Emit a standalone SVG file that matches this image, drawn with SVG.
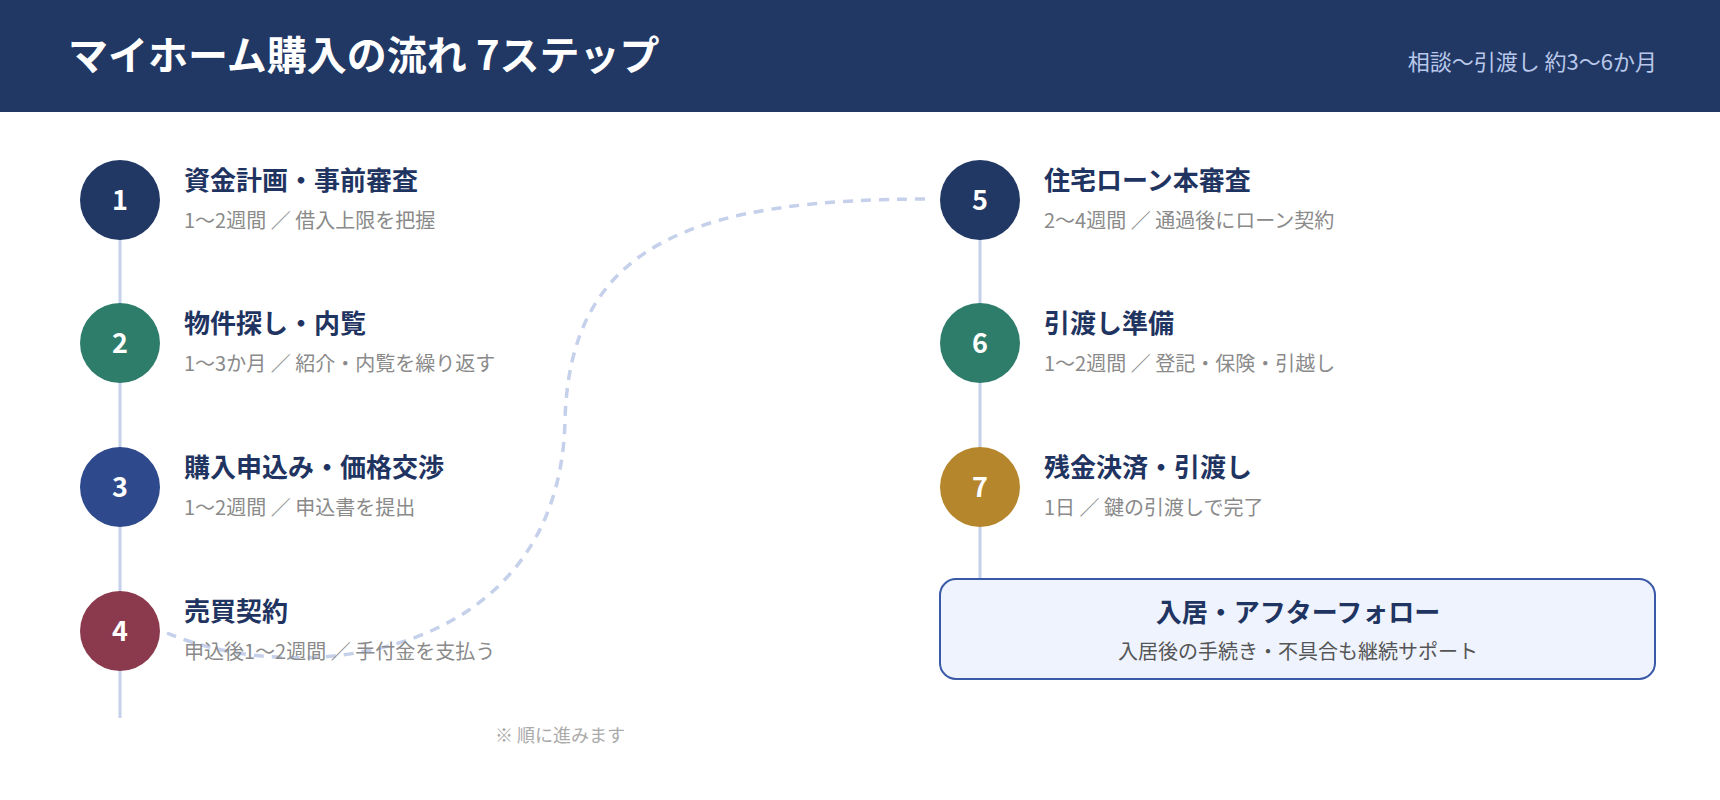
<svg xmlns="http://www.w3.org/2000/svg" width="1720" height="800" viewBox="0 0 1720 800">
<style>
text{font-family:"Noto Sans CJK JP","Noto Sans",sans-serif}
.num{fill:#fff;font-size:27px;font-weight:700;text-anchor:middle}
.t{fill:#1f3461;font-size:26px;font-weight:700}
.s{fill:#8a8a8a;font-size:20px}
.spine{stroke:#c5d0ea;stroke-width:3;fill:none}
</style>
<rect width="1720" height="800" fill="#fff"/>
<g id="header">
<rect width="1720" height="112" fill="#213864"/>
<text x="68" y="70" fill="#fff" font-size="40" font-weight="700">マイホーム購入の流れ 7ステップ</text>
<text x="1657" y="70" fill="#b9c8ea" font-size="22" text-anchor="end">相談〜引渡し 約3〜6か月</text>
</g>
<g id="connectors">
<line class="spine" x1="120" y1="200" x2="120" y2="718"/>
<line class="spine" x1="980" y1="200" x2="980" y2="579"/>
<path d="M167 633 C300 690 560 660 565 420 C570 240 700 199 932 199" fill="none" stroke="#c5d0ea" stroke-width="3.5" stroke-dasharray="10 8"/>
</g>
<g id="step1"><circle cx="120" cy="200" r="40" fill="#213864"/><text class="num" x="120" y="210">1</text>
<text class="t" x="184" y="190">資金計画・事前審査</text><text class="s" x="184" y="228">1〜2週間 ／ 借入上限を把握</text></g>
<g id="step2"><circle cx="120" cy="343" r="40" fill="#2e7d6b"/><text class="num" x="120" y="353">2</text>
<text class="t" x="184" y="333">物件探し・内覧</text><text class="s" x="184" y="371">1〜3か月 ／ 紹介・内覧を繰り返す</text></g>
<g id="step3"><circle cx="120" cy="487" r="40" fill="#2e4a8c"/><text class="num" x="120" y="497">3</text>
<text class="t" x="184" y="477">購入申込み・価格交渉</text><text class="s" x="184" y="515">1〜2週間 ／ 申込書を提出</text></g>
<g id="step4"><circle cx="120" cy="631" r="40" fill="#8b3a4e"/><text class="num" x="120" y="641">4</text>
<text class="t" x="184" y="621">売買契約</text><text class="s" x="184" y="659">申込後1〜2週間 ／ 手付金を支払う</text></g>
<g id="step5"><circle cx="980" cy="200" r="40" fill="#213864"/><text class="num" x="980" y="210">5</text>
<text class="t" x="1044" y="190">住宅ローン本審査</text><text class="s" x="1044" y="228">2〜4週間 ／ 通過後にローン契約</text></g>
<g id="step6"><circle cx="980" cy="343" r="40" fill="#2e7d6b"/><text class="num" x="980" y="353">6</text>
<text class="t" x="1044" y="333">引渡し準備</text><text class="s" x="1044" y="371">1〜2週間 ／ 登記・保険・引越し</text></g>
<g id="step7"><circle cx="980" cy="487" r="40" fill="#b5862c"/><text class="num" x="980" y="497">7</text>
<text class="t" x="1044" y="477">残金決済・引渡し</text><text class="s" x="1044" y="515">1日 ／ 鍵の引渡しで完了</text></g>
<g id="final"><rect x="940" y="579" width="715" height="100" rx="16" fill="#eef3fd" stroke="#3a5aa8" stroke-width="2"/>
<text class="t" x="1298" y="622" text-anchor="middle">入居・アフターフォロー</text>
<text x="1298" y="659" text-anchor="middle" fill="#555" font-size="20">入居後の手続き・不具合も継続サポート</text></g>
<text x="560" y="742" text-anchor="middle" fill="#aaa" font-size="18">※ 順に進みます</text>
</svg>
